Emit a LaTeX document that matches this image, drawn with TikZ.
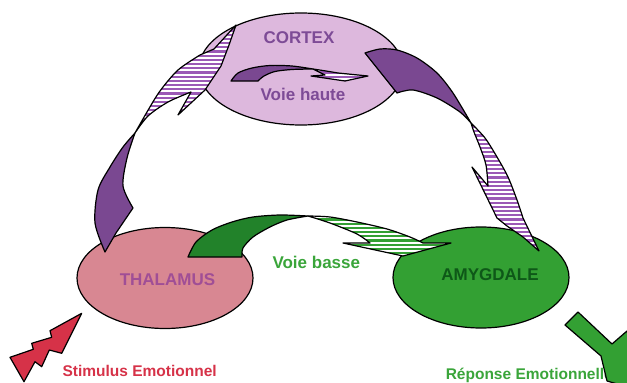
\documentclass[tikz,border=0pt]{standalone}
\usepackage{fontspec}
\setmainfont{Liberation Sans}
\usetikzlibrary{shapes.geometric}
\definecolor{cortexfill}{RGB}{221,184,221}
\definecolor{purpletext}{RGB}{125,75,150}
\definecolor{darkpurple}{RGB}{122,72,145}
\definecolor{stripepurple}{RGB}{155,89,182}
\definecolor{thalfill}{RGB}{216,135,146}
\definecolor{thaltext}{RGB}{160,78,150}
\definecolor{amygfill}{RGB}{51,160,51}
\definecolor{amygtext}{RGB}{14,88,24}
\definecolor{darkgreen}{RGB}{34,130,42}
\definecolor{stripegreen}{RGB}{51,160,51}
\definecolor{greentext}{RGB}{58,165,58}
\definecolor{redbolt}{RGB}{214,50,72}
\tikzset{
  outline/.style={draw=black, line width=1.2pt, line join=round},
  region/.style={ellipse, outline, inner sep=0pt, minimum width=176pt, minimum height=101pt},
  darkP/.style={outline, fill=darkpurple},
  darkG/.style={outline, fill=darkgreen},
  stripes/.style={outline, path picture={
    \fill[white] (0,0) rectangle (627,383);
    \foreach \yy in {0,4.2,...,383} \fill[#1] (0,\yy) rectangle (627,\yy+2.2);
  }},
  stripedP/.style={stripes=stripepurple},
  stripedG/.style={stripes=stripegreen},
  lab/.style={anchor=base, inner sep=0pt, font=\bfseries\fontsize{17}{20}\selectfont},
  smalllab/.style={anchor=base, inner sep=0pt, font=\bfseries\fontsize{15.5}{18}\selectfont}
}
\begin{document}
\begin{tikzpicture}[x=1pt,y=-1pt]
\useasboundingbox (0,0) rectangle (627,383);
\begin{scope}
\clip (0,0) rectangle (627,383);
% regions
\node[region, fill=cortexfill, minimum width=204pt, minimum height=112pt] (cortex) at (301,69) {};
\node[region, fill=thalfill] (thalamus) at (165,278) {};
\node[region, fill=amygfill] (amygdale) at (481,277.5) {};
% labels
\node[lab, text=purpletext] (cortexlabel) at (299,43.3) {CORTEX};
\node[lab, text=purpletext] (hautelabel) at (303,100) {Voie haute};
\node[lab, text=thaltext] (thallabel) at (167.5,285) {THALAMUS};
\node[lab, text=amygtext] (amyglabel) at (490,280) {AMYGDALE};
\node[lab, text=greentext] (basselabel) at (316.3,268.3) {Voie basse};
\node[smalllab, text=redbolt] (stimlabel) at (139.7,376) {Stimulus Emotionnel};
\node[smalllab, text=greentext] (reponselabel) at (529.3,379.6) {Réponse Emotionnelle};
% cortex small arrow
\filldraw[darkP] (231,81) -- plot[smooth] coordinates {(231,81) (238,73) (252,68) (270,65.5) (292,66) (313,69)}
  -- plot[smooth] coordinates {(313,69) (292,69.5) (275,71.5) (264,76) (258,81)} -- cycle;
\filldraw[stripedP] (313,69) -- plot[smooth] coordinates {(313,69) (326,71) (338,73)}
  -- (368,76) -- (345,81) -- (311,76) -- (325,75) -- cycle;
% left big arrow (thalamus -> cortex)
\filldraw[darkP] (105,252) -- plot[smooth] coordinates {(105,252) (95,223) (98,190) (110,167) (123,147) (135,133)}
  -- plot[smooth] coordinates {(135,133) (127,158) (123,186) (133,208)} -- (116,233) -- cycle;
\filldraw[stripedP] (135,133) -- plot[smooth] coordinates {(135,133) (147,112) (160,91) (178,70) (200,55)}
  -- (214,49) -- (236,25) -- (229,45) -- (221,66) -- (205,90) -- (178,115) -- (191,92)
  -- plot[smooth] coordinates {(191,92) (168,102) (148,116) (135,133)} -- cycle;
% right big arrow (cortex -> amygdale)
\filldraw[darkP] (365,53) -- plot[smooth] coordinates {(365,53) (380,49) (397,50) (417,58) (437,73) (453,93) (471,123)}
  -- plot[smooth] coordinates {(471,123) (460,112) (437,98) (413,90) (397,93)} -- cycle;
\filldraw[stripedP] (471,123) -- plot[smooth] coordinates {(471,123) (485,138) (497,157) (508,177) (517,200) (523,218)}
  -- (539,251) -- (523,237) -- (507,226) -- (497,218) -- (472,167) -- (488,186)
  -- plot[smooth] coordinates {(488,186) (486,165) (480,147) (474,132) (471,123)} -- cycle;
% green arrow (thalamus -> amygdale)
\filldraw[darkG] (188,257) -- plot[smooth] coordinates {(188,257) (196,242) (212,230) (232,222) (253,217) (280,215) (308,216)}
  -- plot[smooth] coordinates {(308,216) (287,220) (270,227) (253,237) (243,248) (242,257)} -- cycle;
\filldraw[stripedG] (308,216) -- plot[smooth] coordinates {(308,216) (330,217) (357,222) (387,229) (410,237) (423,243)}
  -- (451,243) -- (403,256) -- (343,243) -- (370,243)
  -- plot[smooth] coordinates {(370,243) (357,234) (330,223) (308,216)} -- cycle;
% lightning
\filldraw[outline, fill=redbolt] (81.7,313.3) -- (50,330.7) -- (51.7,337.3) -- (31.7,343.3) -- (33.3,349.3)
  -- (10,357.3) -- (24,381.7) -- (35,361.7) -- (41.7,366.7) -- (49.3,350) -- (61.7,353.3) -- cycle;
% response arrow
\filldraw[outline, fill=amygfill] (578,312) -- (612,344) -- (627,331) -- (645,392)
  -- (607,381) -- (601,356) -- (565,325) -- cycle;
\end{scope}
\end{tikzpicture}
\end{document}
